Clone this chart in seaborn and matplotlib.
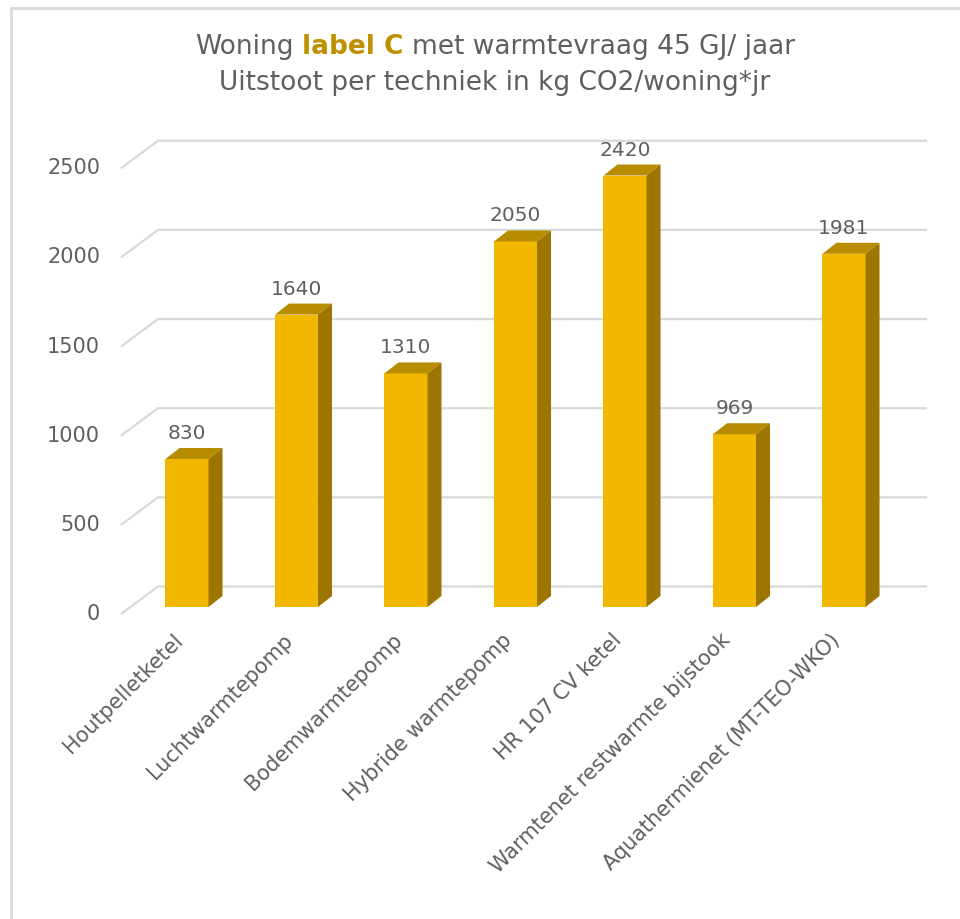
import matplotlib
matplotlib.use("Agg")
import matplotlib.pyplot as plt
from matplotlib.patches import Polygon
from matplotlib.lines import Line2D
import seaborn as sns
import pandas as pd

# data
categories = ["Houtpelletketel", "Luchtwarmtepomp", "Bodemwarmtepomp",
              "Hybride warmtepomp", "HR 107 CV ketel",
              "Warmtenet restwarmte bijstook", "Aquathermienet (MT-TEO-WKO)"]
values = [830, 1640, 1310, 2050, 2420, 969, 1981]
yticks = [0, 500, 1000, 1500, 2000, 2500]

GRAY = "#5f5f5f"
GOLD = "#BF9000"
FRONT = "#F2B800"
TOP = "#B88C00"
SIDE = "#9C7600"
GRID = "#D9D9D9"

sns.set_theme(style="white")
plt.rcParams["font.family"] = ["DejaVu Sans"]

W, H = 960, 919
fig = plt.figure(figsize=(W / 100, H / 100), dpi=100)

# pixel scale of the axes
px_cat = 109.5      # px per category
px_val = 0.1783     # px per unit
x0_px, y0_px = 187, 607
xlim = (-0.75, 6.85)
ylim = (-129, 2700)
left = (x0_px + px_cat * xlim[0]) / W
right = (x0_px + px_cat * xlim[1]) / W
bottom = 1 - (y0_px - px_val * ylim[0]) / H
top = 1 - (y0_px - px_val * ylim[1]) / H
ax = fig.add_axes([left, bottom, right - left, top - bottom])

def dx(px):
    return px / px_cat

def dy(px):
    return px / px_val

df = pd.DataFrame({"techniek": categories, "uitstoot": values})
bw = 0.393
sns.barplot(data=df, x="techniek", y="uitstoot", color=FRONT, width=bw,
            saturation=1, edgecolor="none", linewidth=0, ax=ax, zorder=3)

# 3D faces of the bars
ddx, ddy = dx(14), dy(11)
for i, v in enumerate(values):
    xl, xr = i - bw / 2, i + bw / 2
    ax.add_patch(Polygon([(xl, v), (xr, v), (xr + ddx, v + ddy), (xl + ddx, v + ddy)],
                         closed=True, facecolor=TOP, edgecolor="none", zorder=3))
    ax.add_patch(Polygon([(xr, 0), (xr + ddx, ddy), (xr + ddx, v + ddy), (xr, v)],
                         closed=True, facecolor=SIDE, edgecolor="none", zorder=3))
    ax.text(i, v + ddy + dy(5), f"{v}", ha="center", va="bottom",
            fontsize=14.5, color=GRAY, zorder=4)

# back wall gridlines with floor diagonal
for t in yticks:
    ax.plot([dx(121 - 187), dx(158 - 187), dx(927 - 187)],
            [t - dy(7), t + dy(20.5), t + dy(20.5)],
            color=GRID, lw=1.6, zorder=1, solid_capstyle="butt", clip_on=False)
    ax.text(dx(100 - 187), t - dy(7), f"{t}", ha="right", va="center",
            fontsize=15, color=GRAY)

ax.set_xlim(*xlim)
ax.set_ylim(*ylim)
ax.set_yticks([])
ax.set_xlabel("")
ax.set_ylabel("")
ax.set_xticks([i - dx(14) for i in range(len(categories))])
ax.set_xticklabels(categories, rotation=45, ha="right", rotation_mode="anchor",
                   fontsize=15, color=GRAY)
ax.tick_params(axis="x", length=0, pad=0)
for s in ax.spines.values():
    s.set_visible(False)
ax.patch.set_alpha(0)

# frame of the chart area
fig.add_artist(Line2D([11 / W, 11 / W], [0, 1 - 8 / H], color=GRID, lw=2))
fig.add_artist(Line2D([11 / W, 1], [1 - 8 / H, 1 - 8 / H], color=GRID, lw=2))

# title, first line with a bold gold part
fig.canvas.draw()
r = fig.canvas.get_renderer()
fs_title = 19
parts = [("Woning", "normal", GRAY), ("label C", "bold", GOLD),
         ("met warmtevraag 45 GJ/ jaar", "normal", GRAY)]
y1 = 1 - 47 / H
texts = [fig.text(0, y1, s, fontsize=fs_title, fontweight=fw, color=c,
                  ha="left", va="center") for s, fw, c in parts]
tmp1 = fig.text(0, 0, "a a", fontsize=fs_title)
tmp2 = fig.text(0, 0, "aa", fontsize=fs_title)
space = tmp1.get_window_extent(r).width - tmp2.get_window_extent(r).width
tmp1.remove()
tmp2.remove()
widths = [t.get_window_extent(r).width for t in texts]
total = sum(widths) + space * (len(widths) - 1)
xpos = 495 - total / 2
for t, w in zip(texts, widths):
    t.set_x(xpos / W)
    xpos += w + space
fig.text(495 / W, 1 - 83 / H, "Uitstoot per techniek in kg CO2/woning*jr",
         fontsize=fs_title, color=GRAY, ha="center", va="center")

fig.savefig("out.png", dpi=100)
